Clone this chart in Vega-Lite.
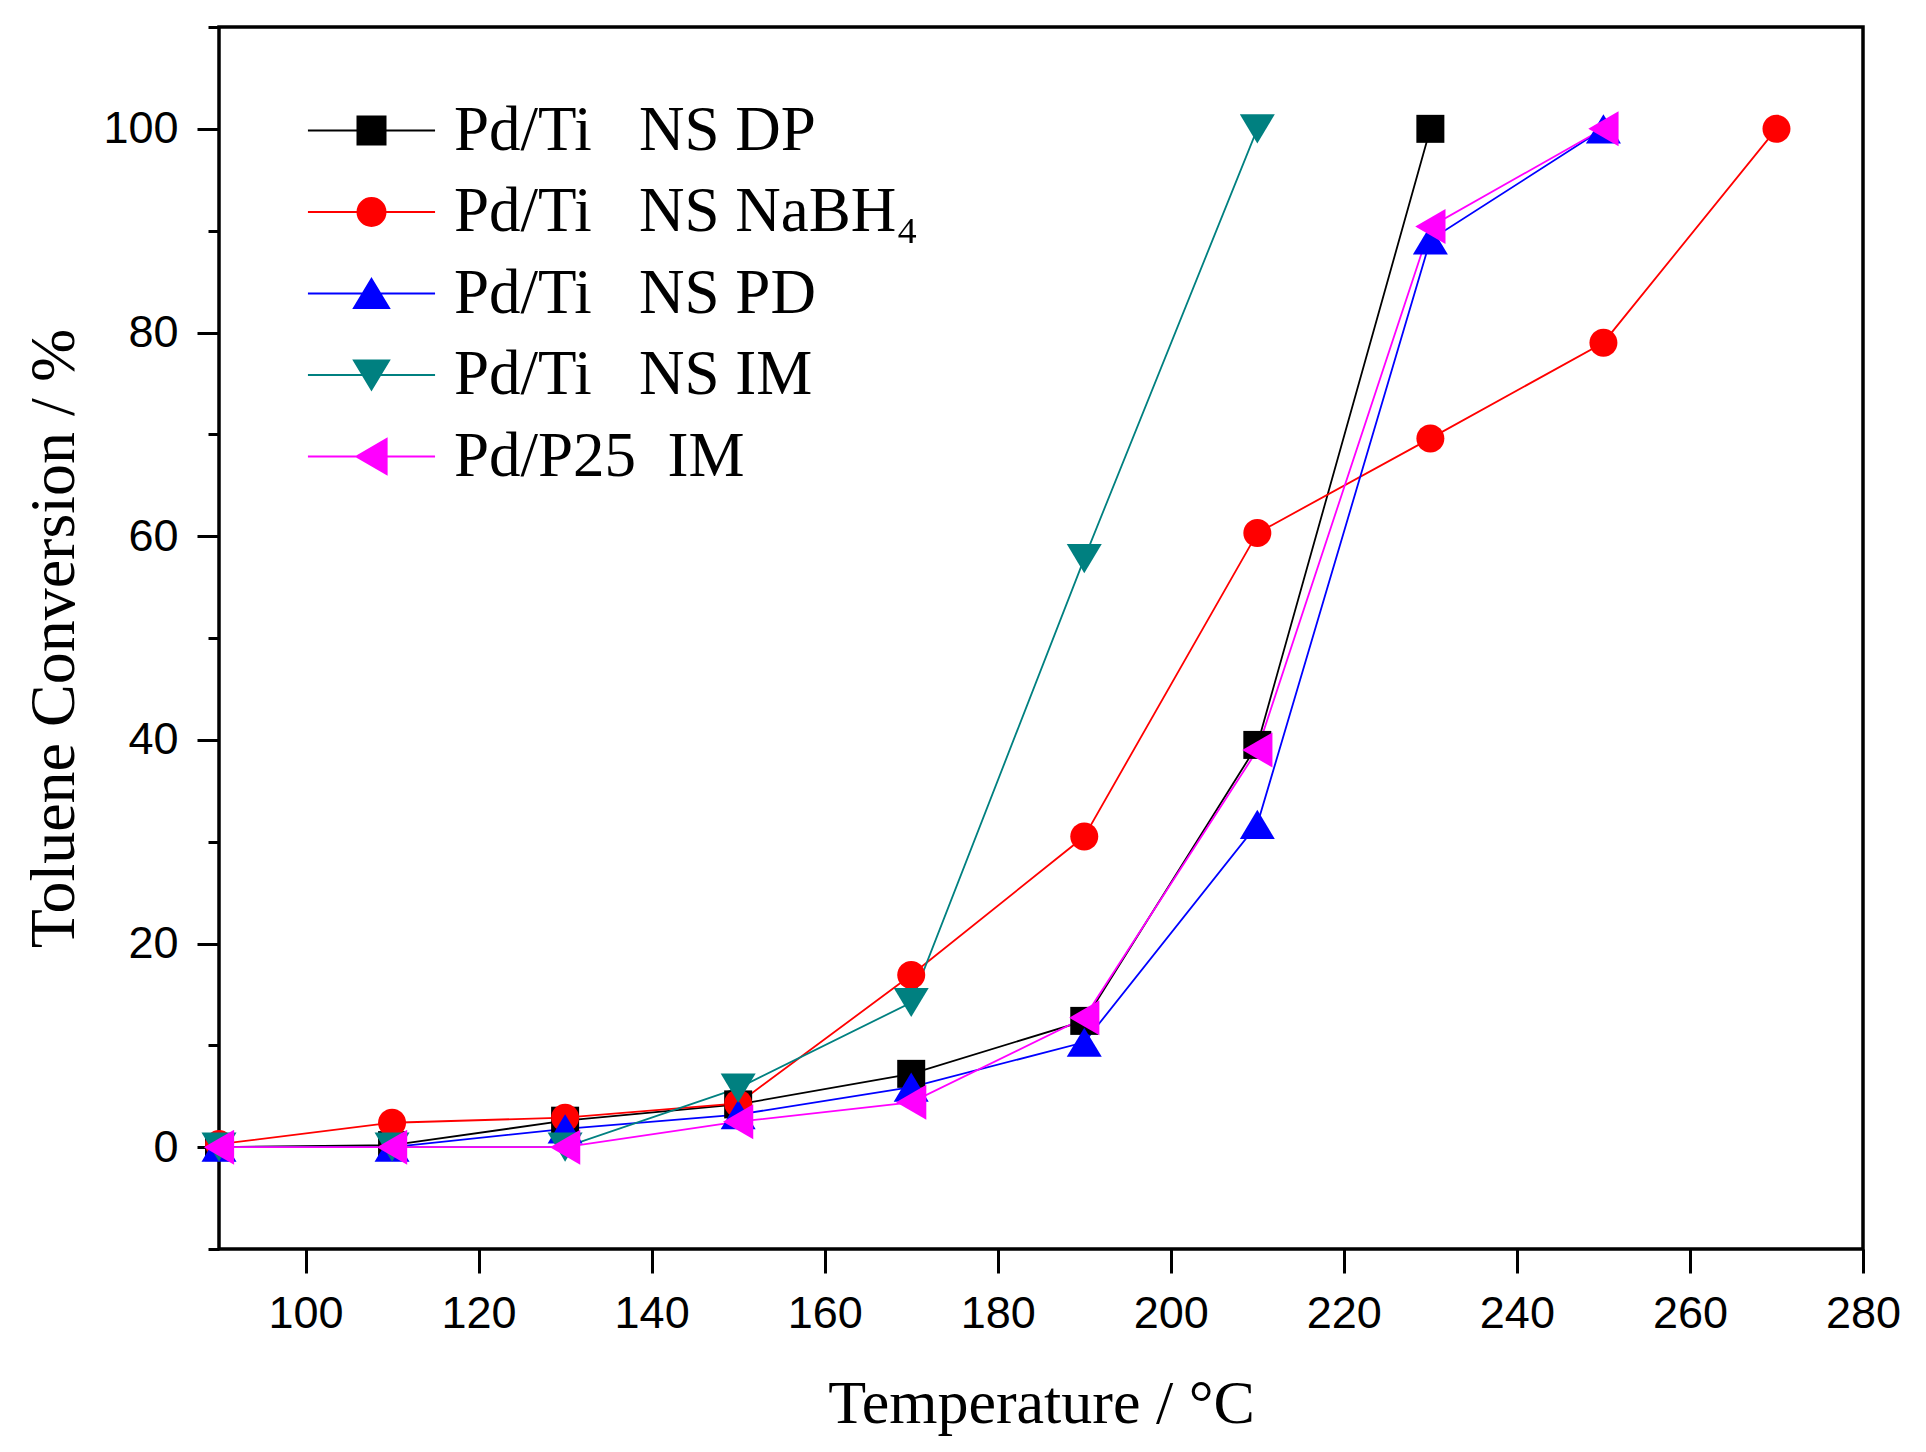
{
  "$schema": "https://vega.github.io/schema/vega-lite/v6.json",
  "autosize": {"type": "none"},
  "padding": {"left": 219, "top": 27, "right": 63, "bottom": 203},
  "width": 1644,
  "height": 1222,
  "background": "white",
  "config": {
    "view": {"stroke": "black", "strokeWidth": 3.5},
    "axis": {
      "grid": false,
      "domain": false,
      "tickColor": "black",
      "tickWidth": 3,
      "labelColor": "black",
      "labelFont": "Liberation Sans",
      "labelFontSize": 45,
      "labelFlush": false,
      "labelOverlap": false,
      "titleColor": "black",
      "titleFont": "Liberation Serif",
      "titleFontWeight": "normal"
    }
  },
  "data": {
    "values": [
      {"T": 90, "conv": 0, "series": "Pd/Ti\u00a0\u00a0\u00a0NS DP"},
      {"T": 110, "conv": 0.2, "series": "Pd/Ti\u00a0\u00a0\u00a0NS DP"},
      {"T": 130, "conv": 2.6, "series": "Pd/Ti\u00a0\u00a0\u00a0NS DP"},
      {"T": 150, "conv": 4.2, "series": "Pd/Ti\u00a0\u00a0\u00a0NS DP"},
      {"T": 170, "conv": 7.2, "series": "Pd/Ti\u00a0\u00a0\u00a0NS DP"},
      {"T": 190, "conv": 12.4, "series": "Pd/Ti\u00a0\u00a0\u00a0NS DP"},
      {"T": 210, "conv": 39.5, "series": "Pd/Ti\u00a0\u00a0\u00a0NS DP"},
      {"T": 230, "conv": 100, "series": "Pd/Ti\u00a0\u00a0\u00a0NS DP"},

      {"T": 90, "conv": 0.3, "series": "Pd/Ti\u00a0\u00a0\u00a0NS NaBH\u2084"},
      {"T": 110, "conv": 2.4, "series": "Pd/Ti\u00a0\u00a0\u00a0NS NaBH\u2084"},
      {"T": 130, "conv": 2.9, "series": "Pd/Ti\u00a0\u00a0\u00a0NS NaBH\u2084"},
      {"T": 150, "conv": 4.3, "series": "Pd/Ti\u00a0\u00a0\u00a0NS NaBH\u2084"},
      {"T": 170, "conv": 16.9, "series": "Pd/Ti\u00a0\u00a0\u00a0NS NaBH\u2084"},
      {"T": 190, "conv": 30.5, "series": "Pd/Ti\u00a0\u00a0\u00a0NS NaBH\u2084"},
      {"T": 210, "conv": 60.3, "series": "Pd/Ti\u00a0\u00a0\u00a0NS NaBH\u2084"},
      {"T": 230, "conv": 69.6, "series": "Pd/Ti\u00a0\u00a0\u00a0NS NaBH\u2084"},
      {"T": 250, "conv": 79.0, "series": "Pd/Ti\u00a0\u00a0\u00a0NS NaBH\u2084"},
      {"T": 270, "conv": 100, "series": "Pd/Ti\u00a0\u00a0\u00a0NS NaBH\u2084"},

      {"T": 90, "conv": 0, "series": "Pd/Ti\u00a0\u00a0\u00a0NS PD"},
      {"T": 110, "conv": 0, "series": "Pd/Ti\u00a0\u00a0\u00a0NS PD"},
      {"T": 130, "conv": 1.8, "series": "Pd/Ti\u00a0\u00a0\u00a0NS PD"},
      {"T": 150, "conv": 3.2, "series": "Pd/Ti\u00a0\u00a0\u00a0NS PD"},
      {"T": 170, "conv": 5.9, "series": "Pd/Ti\u00a0\u00a0\u00a0NS PD"},
      {"T": 190, "conv": 10.3, "series": "Pd/Ti\u00a0\u00a0\u00a0NS PD"},
      {"T": 210, "conv": 31.7, "series": "Pd/Ti\u00a0\u00a0\u00a0NS PD"},
      {"T": 230, "conv": 89.1, "series": "Pd/Ti\u00a0\u00a0\u00a0NS PD"},
      {"T": 250, "conv": 100, "series": "Pd/Ti\u00a0\u00a0\u00a0NS PD"},

      {"T": 90, "conv": 0, "series": "Pd/Ti\u00a0\u00a0\u00a0NS IM"},
      {"T": 110, "conv": 0, "series": "Pd/Ti\u00a0\u00a0\u00a0NS IM"},
      {"T": 130, "conv": 0, "series": "Pd/Ti\u00a0\u00a0\u00a0NS IM"},
      {"T": 150, "conv": 5.8, "series": "Pd/Ti\u00a0\u00a0\u00a0NS IM"},
      {"T": 170, "conv": 14.2, "series": "Pd/Ti\u00a0\u00a0\u00a0NS IM"},
      {"T": 190, "conv": 57.8, "series": "Pd/Ti\u00a0\u00a0\u00a0NS IM"},
      {"T": 210, "conv": 100, "series": "Pd/Ti\u00a0\u00a0\u00a0NS IM"},

      {"T": 90, "conv": 0, "series": "Pd/P25\u00a0\u00a0IM"},
      {"T": 110, "conv": 0, "series": "Pd/P25\u00a0\u00a0IM"},
      {"T": 130, "conv": 0, "series": "Pd/P25\u00a0\u00a0IM"},
      {"T": 150, "conv": 2.5, "series": "Pd/P25\u00a0\u00a0IM"},
      {"T": 170, "conv": 4.4, "series": "Pd/P25\u00a0\u00a0IM"},
      {"T": 190, "conv": 12.7, "series": "Pd/P25\u00a0\u00a0IM"},
      {"T": 210, "conv": 39.0, "series": "Pd/P25\u00a0\u00a0IM"},
      {"T": 230, "conv": 90.4, "series": "Pd/P25\u00a0\u00a0IM"},
      {"T": 250, "conv": 100, "series": "Pd/P25\u00a0\u00a0IM"}
    ]
  },
  "encoding": {
    "x": {
      "field": "T",
      "type": "quantitative",
      "scale": {"domain": [90, 280], "nice": false, "zero": false},
      "axis": {
        "orient": "bottom",
        "values": [100, 120, 140, 160, 180, 200, 220, 240, 260, 280],
        "tickSize": 24,
        "labelPadding": 18,
        "title": "Temperature / \u00b0C",
        "titleFontSize": 62,
        "titleX": 822,
        "titleY": 173,
        "titleBaseline": "alphabetic",
        "titleAlign": "center"
      }
    },
    "y": {
      "field": "conv",
      "type": "quantitative",
      "scale": {"domain": [-10, 110], "nice": false, "zero": false},
      "axis": {
        "orient": "left",
        "values": [-10, 0, 10, 20, 30, 40, 50, 60, 70, 80, 90, 100, 110],
        "labelExpr": "datum.value % 20 === 0 && datum.value >= 0 && datum.value <= 100 ? datum.label : ''",
        "tickSize": {"condition": {"test": "datum.value % 20 === 0", "value": 22}, "value": 11},
        "labelPadding": 19,
        "title": "Toluene Conversion / %",
        "titleFontSize": 64,
        "titleAngle": -90,
        "titleX": -146,
        "titleY": 611,
        "titleBaseline": "alphabetic",
        "titleAlign": "center"
      }
    }
  },
  "layer": [
    {
      "mark": {"type": "line", "strokeWidth": 1.8},
      "encoding": {
        "color": {
          "field": "series",
          "type": "nominal",
          "scale": {
            "domain": ["Pd/Ti\u00a0\u00a0\u00a0NS DP", "Pd/Ti\u00a0\u00a0\u00a0NS NaBH\u2084", "Pd/Ti\u00a0\u00a0\u00a0NS PD", "Pd/Ti\u00a0\u00a0\u00a0NS IM", "Pd/P25\u00a0\u00a0IM"],
            "range": ["#000000", "#FF0000", "#0000FF", "#008080", "#FF00FF"]
          },
          "legend": null
        }
      }
    },
    {
      "mark": {"type": "point", "filled": true, "opacity": 1, "strokeWidth": 0, "size": 784},
      "encoding": {
        "color": {
          "field": "series",
          "type": "nominal",
          "scale": {
            "domain": ["Pd/Ti\u00a0\u00a0\u00a0NS DP", "Pd/Ti\u00a0\u00a0\u00a0NS NaBH\u2084", "Pd/Ti\u00a0\u00a0\u00a0NS PD", "Pd/Ti\u00a0\u00a0\u00a0NS IM", "Pd/P25\u00a0\u00a0IM"],
            "range": ["#000000", "#FF0000", "#0000FF", "#008080", "#FF00FF"]
          },
          "legend": null
        },
        "shape": {
          "field": "series",
          "type": "nominal",
          "scale": {
            "domain": ["Pd/Ti\u00a0\u00a0\u00a0NS DP", "Pd/Ti\u00a0\u00a0\u00a0NS NaBH\u2084", "Pd/Ti\u00a0\u00a0\u00a0NS PD", "Pd/Ti\u00a0\u00a0\u00a0NS IM", "Pd/P25\u00a0\u00a0IM"],
            "range": [
              "M-1,-1H1V1H-1Z",
              "M-1,0A1,1,0,1,1,1,0A1,1,0,1,1,-1,0Z",
              "M0,-1.04L1.25,1.04H-1.25Z",
              "M0,1.04L1.25,-1.04H-1.25Z",
              "M-1.08,0L1.08,-1.25V1.25Z"
            ]
          },
          "legend": null
        }
      }
    },
    {
      "transform": [{"filter": {"field": "T", "lt": 0}}],
      "mark": {"type": "point", "filled": true},
      "encoding": {
        "fill": {
          "field": "series",
          "type": "nominal",
          "scale": {
            "domain": ["Pd/Ti\u00a0\u00a0\u00a0NS DP", "Pd/Ti\u00a0\u00a0\u00a0NS NaBH\u2084", "Pd/Ti\u00a0\u00a0\u00a0NS PD", "Pd/Ti\u00a0\u00a0\u00a0NS IM", "Pd/P25\u00a0\u00a0IM"],
            "range": ["#000000", "#FF0000", "#0000FF", "#008080", "#FF00FF"]
          },
          "legend": {
            "title": null,
            "orient": "none",
            "legendX": 121,
            "legendY": 72,
            "padding": 0,
            "symbolSize": 784,
            "symbolStrokeWidth": 2,
            "symbolOpacity": 1,
            "labelOffset": 51,
            "labelFont": "Liberation Serif",
            "labelFontSize": 63,
            "labelColor": "black",
            "labelLimit": 0,
            "rowPadding": 17.5
          }
        },
        "stroke": {
          "field": "series",
          "type": "nominal",
          "scale": {
            "domain": ["Pd/Ti\u00a0\u00a0\u00a0NS DP", "Pd/Ti\u00a0\u00a0\u00a0NS NaBH\u2084", "Pd/Ti\u00a0\u00a0\u00a0NS PD", "Pd/Ti\u00a0\u00a0\u00a0NS IM", "Pd/P25\u00a0\u00a0IM"],
            "range": ["#000000", "#FF0000", "#0000FF", "#008080", "#FF00FF"]
          },
          "legend": {
            "title": null,
            "orient": "none",
            "legendX": 121,
            "legendY": 72,
            "padding": 0,
            "symbolSize": 784,
            "symbolStrokeWidth": 2,
            "symbolOpacity": 1,
            "labelOffset": 51,
            "labelFont": "Liberation Serif",
            "labelFontSize": 63,
            "labelColor": "black",
            "labelLimit": 0,
            "rowPadding": 17.5
          }
        },
        "shape": {
          "field": "series",
          "type": "nominal",
          "scale": {
            "domain": ["Pd/Ti\u00a0\u00a0\u00a0NS DP", "Pd/Ti\u00a0\u00a0\u00a0NS NaBH\u2084", "Pd/Ti\u00a0\u00a0\u00a0NS PD", "Pd/Ti\u00a0\u00a0\u00a0NS IM", "Pd/P25\u00a0\u00a0IM"],
            "range": [
              "M-4.54,0H4.54M-1,-1H1V1H-1Z",
              "M-4.54,0H4.54M-1,0A1,1,0,1,1,1,0A1,1,0,1,1,-1,0Z",
              "M-4.54,0H4.54M0,-1.04L1.25,1.04H-1.25Z",
              "M-4.54,0H4.54M0,1.04L1.25,-1.04H-1.25Z",
              "M-4.54,0H4.54M-1.08,0L1.08,-1.25V1.25Z"
            ]
          },
          "legend": {
            "title": null,
            "orient": "none",
            "legendX": 121,
            "legendY": 72,
            "padding": 0,
            "symbolSize": 784,
            "symbolStrokeWidth": 2,
            "symbolOpacity": 1,
            "labelOffset": 51,
            "labelFont": "Liberation Serif",
            "labelFontSize": 63,
            "labelColor": "black",
            "labelLimit": 0,
            "rowPadding": 17.5
          }
        }
      }
    }
  ],
  "resolve": {
    "scale": {"shape": "independent", "fill": "independent", "stroke": "independent"},
    "legend": {"shape": "independent", "fill": "independent", "stroke": "independent"}
  }
}
